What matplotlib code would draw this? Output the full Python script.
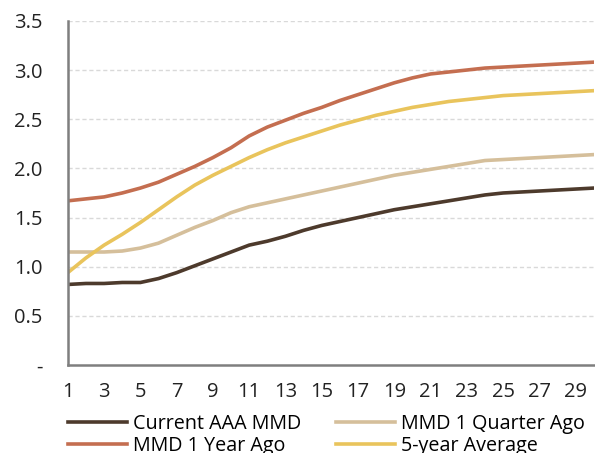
import numpy as np
import matplotlib.pyplot as plt

plt.rcParams['font.family'] = ['Open Sans', 'DejaVu Sans']

years = list(range(1, 31))
current_aaa = [0.82, 0.83, 0.83, 0.84, 0.84, 0.88, 0.94, 1.01, 1.08, 1.15,
               1.22, 1.26, 1.31, 1.37, 1.42, 1.46, 1.50, 1.54, 1.58, 1.61,
               1.64, 1.67, 1.70, 1.73, 1.75, 1.76, 1.77, 1.78, 1.79, 1.80]
quarter_ago = [1.15, 1.15, 1.15, 1.16, 1.19, 1.24, 1.32, 1.40, 1.47, 1.55,
               1.61, 1.65, 1.69, 1.73, 1.77, 1.81, 1.85, 1.89, 1.93, 1.96,
               1.99, 2.02, 2.05, 2.08, 2.09, 2.10, 2.11, 2.12, 2.13, 2.14]
year_ago = [1.67, 1.69, 1.71, 1.75, 1.80, 1.86, 1.94, 2.02, 2.11, 2.21,
            2.33, 2.42, 2.49, 2.56, 2.62, 2.69, 2.75, 2.81, 2.87, 2.92,
            2.96, 2.98, 3.00, 3.02, 3.03, 3.04, 3.05, 3.06, 3.07, 3.08]
five_yr_avg = [0.94, 1.09, 1.22, 1.33, 1.45, 1.58, 1.71, 1.83, 1.93, 2.02,
               2.11, 2.19, 2.26, 2.32, 2.38, 2.44, 2.49, 2.54, 2.58, 2.62,
               2.65, 2.68, 2.70, 2.72, 2.74, 2.75, 2.76, 2.77, 2.78, 2.79]

yticks = [0, 0.5, 1.0, 1.5, 2.0, 2.5, 3.0, 3.5]
ytick_labels = ['-', '0.5', '1.0', '1.5', '2.0', '2.5', '3.0', '3.5']
xticks = list(range(1, 30, 2))

fig = plt.figure(figsize=(5.95, 4.53), dpi=100)
ax = fig.add_axes([0.114, 0.194, 0.884, 0.76])

ax.plot(years, current_aaa, color='#4d3a2c', lw=2.6, label='Current AAA MMD')
ax.plot(years, year_ago, color='#c46e50', lw=2.6, label='MMD 1 Year Ago')
ax.plot(years, quarter_ago, color='#d5bf9b', lw=2.6, label='MMD 1 Quarter Ago')
ax.plot(years, five_yr_avg, color='#e9c45c', lw=2.6, label='5-year Average')

ax.set_xlim(1, 30)
ax.set_ylim(0, 3.5)
ax.set_yticks(yticks)
ax.set_yticklabels(ytick_labels)
ax.set_xticks(xticks)
ax.tick_params(length=0, labelsize=14.5, colors='#222222')
ax.tick_params(axis='x', pad=12)
ax.tick_params(axis='y', pad=18)

for v in yticks[1:]:
    ax.axhline(v, color='#d9d9d9', lw=1, ls=(0, (3, 2)), zorder=0)

for s in ['top', 'right']:
    ax.spines[s].set_visible(False)
for s in ['left', 'bottom']:
    ax.spines[s].set_color('#7f7f7f')
    ax.spines[s].set_linewidth(1.8)

fig.legend(loc='upper left', bbox_to_anchor=(0.114, 0.087), ncol=2, frameon=False,
           fontsize=14.2, handlelength=3.0, handletextpad=0.3, columnspacing=1.75,
           labelspacing=0.1, borderpad=0, borderaxespad=0)

fig.savefig('out.png', dpi=100)
